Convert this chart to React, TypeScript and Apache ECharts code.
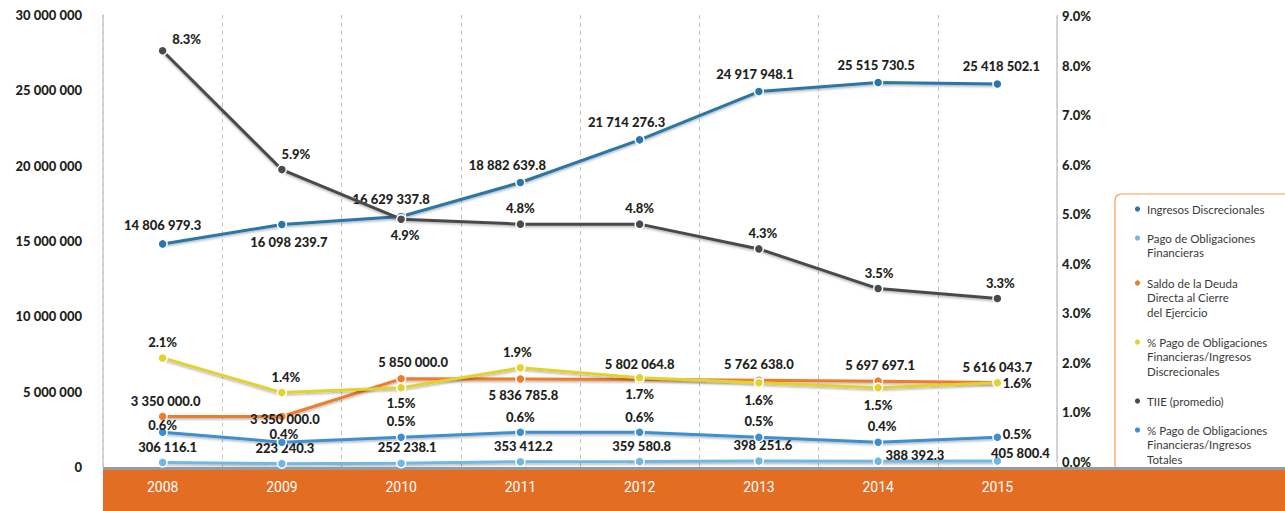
import React, { useEffect, useRef } from "react";
import * as echarts from "echarts";

const years = ["2008", "2009", "2010", "2011", "2012", "2013", "2014", "2015"];
const ingresosDiscrecionales = [14806979.3, 16098239.7, 16629337.8, 18882639.8, 21714276.3, 24917948.1, 25515730.5, 25418502.1];
const pagoObligaciones = [306116.1, 223240.3, 252238.1, 353412.2, 359580.8, 398251.6, 388392.3, 405800.4];
const saldoDeuda = [3350000.0, 3350000.0, 5850000.0, 5836785.8, 5802064.8, 5762638.0, 5697697.1, 5616043.7];
const pctPagoIngDisc = [2.1, 1.4, 1.5, 1.9, 1.7, 1.6, 1.5, 1.6];
const tiie = [8.3, 5.9, 4.9, 4.8, 4.8, 4.3, 3.5, 3.3];
const pctPagoIngTot = [0.6, 0.4, 0.5, 0.6, 0.6, 0.5, 0.4, 0.5];

const N_ING = "Ingresos Discrecionales";
const N_PAGO = "Pago de Obligaciones\nFinancieras";
const N_SALDO = "Saldo de la Deuda\nDirecta al Cierre\ndel Ejercicio";
const N_PDISC = "% Pago de Obligaciones\nFinancieras/Ingresos\nDiscrecionales";
const N_TIIE = "TIIE (promedio)";
const N_PTOT = "% Pago de Obligaciones\nFinancieras/Ingresos\nTotales";

// label placement per point: [position, dx, dy]
type P = [string, number, number];
const ingPlace: P[] = [["top", 0, -3], ["bottom", 7, 2], ["top", -10, -2], ["top", -13, -2], ["top", -13, -2], ["top", -4, -2], ["top", -2, -2], ["top", 4, -2]];
const pagoPlace: P[] = [["top", 5, 0], ["top", 3, 0], ["top", 6, 0], ["top", 3, 0], ["top", 2, 0], ["top", 4, 0], ["right", -2, -6], ["top", 23, 8]];
const saldoPlace: P[] = [["top", 3, 0], ["bottom", 3, -13], ["top", 12, -1], ["bottom", 3, 0], ["top", 0, 0], ["top", 0, 0], ["top", 2, 0], ["top", 0, 0]];
const pdiscPlace: P[] = [["top", 0, 0], ["top", 4, 0], ["bottom", 0, 0], ["top", -3, 0], ["bottom", 0, 0], ["bottom", 0, 2], ["bottom", 0, 2], ["right", -4, 0]];
const tiiePlace: P[] = [["top", 24, 4], ["top", 14, 0], ["bottom", 4, 0], ["top", 0, 0], ["top", 0, 0], ["top", 4, 0], ["top", 1, 0], ["top", 3, 0]];
const ptotPlace: P[] = [["top", 0, 8], ["top", 2, 8], ["top", 0, 0], ["top", 0, 0], ["top", 0, 0], ["top", 0, 0], ["top", 4, 0], ["right", -4, -3]];

const spaced = (s: string) => s.replace(/\B(?=(\d{3})+(?!\d))/g, " ");
const fmtNum = (v: number) => {
  const [i, d] = v.toFixed(1).split(".");
  return spaced(i) + "." + d;
};
const fmtPct = (v: number) => v.toFixed(1) + "%";

const LABEL_FONT = "Lato, 'Open Sans', sans-serif";

function makeSeries(name: string, values: number[], color: string, place: P[], fmt: (v: number) => string, axis: number, z: number) {
  return {
    type: "line",
    name,
    xAxisIndex: axis,
    yAxisIndex: axis,
    z,
    data: values.map((v, i) => ({
      value: v,
      label: { position: place[i][0], offset: [place[i][1], place[i][2]] },
    })),
    symbol: "circle",
    symbolSize: 9,
    showSymbol: true,
    lineStyle: { color, width: 3, shadowColor: "rgba(0,0,0,0.3)", shadowBlur: 2, shadowOffsetY: 1.5 },
    itemStyle: { color, borderColor: "#ffffff", borderWidth: 1.5 },
    label: {
      show: true,
      formatter: (p: any) => fmt(p.value),
      color: "#231f20",
      fontFamily: LABEL_FONT,
      fontWeight: 900,
      fontSize: 13,
      distance: 4,
    },
  };
}

// [series name, number of text lines, y of first line]
const legendItems: [string, number, number][] = [
  [N_ING, 1, 209],
  [N_PAGO, 2, 238],
  [N_SALDO, 3, 283],
  [N_PDISC, 3, 342],
  [N_TIIE, 1, 401],
  [N_PTOT, 3, 430],
];
const LEG_LH = 14.5;

export default function App() {
  const ref = useRef<HTMLDivElement>(null);
  useEffect(() => {
    if (!ref.current) return;
    const chart = echarts.init(ref.current, null, { renderer: "svg" });
    const axisLabelStyle = { color: "#231f20", fontFamily: LABEL_FONT, fontWeight: 900, fontSize: 13 };
    chart.setOption({
      animation: false,
      backgroundColor: "#ffffff",
      grid: [
        { left: 103, right: 228, top: 15, bottom: 44 },
        { left: 103, right: 228, top: 16, bottom: 49 },
      ],
      xAxis: [
        {
          type: "category",
          gridIndex: 0,
          data: years,
          boundaryGap: true,
          axisLine: { show: false },
          axisTick: { show: false },
          axisLabel: { color: "#ffffff", fontFamily: "Roboto, sans-serif", fontSize: 14, margin: 13 },
          splitLine: { show: true, lineStyle: { color: "#c4c4c4", type: [4, 4], width: 1 } },
        },
        { type: "category", gridIndex: 1, data: years, boundaryGap: true, show: false },
      ],
      yAxis: [
        {
          type: "value",
          gridIndex: 0,
          position: "left",
          min: 0,
          max: 30000000,
          interval: 5000000,
          axisLine: { show: true, lineStyle: { color: "#c8c8c8", width: 1.5 } },
          axisTick: { show: false },
          splitLine: { show: false },
          axisLabel: { ...axisLabelStyle, margin: 21, formatter: (v: number) => spaced(String(Math.round(v))) },
        },
        {
          type: "value",
          gridIndex: 1,
          position: "right",
          min: 0,
          max: 9,
          interval: 1,
          axisLine: { show: true, lineStyle: { color: "#c8c8c8", width: 1.5 } },
          axisTick: { show: false },
          splitLine: { show: false },
          axisLabel: { ...axisLabelStyle, margin: 5, formatter: (v: number) => v.toFixed(1) + "%" },
        },
      ],
      legend: legendItems.map(([name, n, y]) => ({
        data: [name],
        left: 1132,
        top: y - ((2 * n - 1) * LEG_LH) / 2,
        orient: "vertical",
        padding: 0,
        itemWidth: 9,
        itemHeight: 9,
        selectedMode: false,
        formatter: (nm: string) => "\n".repeat(n - 1) + nm,
        textStyle: {
          fontFamily: "Lato, 'Open Sans', sans-serif",
          fontSize: 11.5,
          color: "#3a3a3a",
          lineHeight: LEG_LH,
        },
      })),
      graphic: [
        {
          type: "rect",
          z: -1,
          shape: { x: 1115, y: 194, width: 190, height: 290, r: 6 },
          style: { fill: "#ffffff", stroke: "#f39a4e", lineWidth: 1.2 },
        },
        { type: "rect", z: -1, shape: { x: 103, y: 467, width: 1182, height: 3 }, style: { fill: "#9a9a9a" } },
        { type: "rect", z: -1, shape: { x: 103, y: 470, width: 1182, height: 41 }, style: { fill: "#e36d23" } },
      ],
      series: [
        makeSeries(N_ING, ingresosDiscrecionales, "#2a76a9", ingPlace, fmtNum, 0, 3),
        makeSeries(N_PAGO, pagoObligaciones, "#6fb8e6", pagoPlace, fmtNum, 0, 3),
        makeSeries(N_SALDO, saldoDeuda, "#ef7b2b", saldoPlace, fmtNum, 0, 3),
        makeSeries(N_PDISC, pctPagoIngDisc, "#e2d22f", pdiscPlace, fmtPct, 1, 4),
        makeSeries(N_TIIE, tiie, "#4a4a4c", tiiePlace, fmtPct, 1, 4),
        makeSeries(N_PTOT, pctPagoIngTot, "#3d8fd2", ptotPlace, fmtPct, 1, 4),
      ],
    });
    return () => chart.dispose();
  }, []);
  return <div ref={ref} style={{ position: "fixed", left: 0, top: 0, width: 1285, height: 511 }} />;
}
